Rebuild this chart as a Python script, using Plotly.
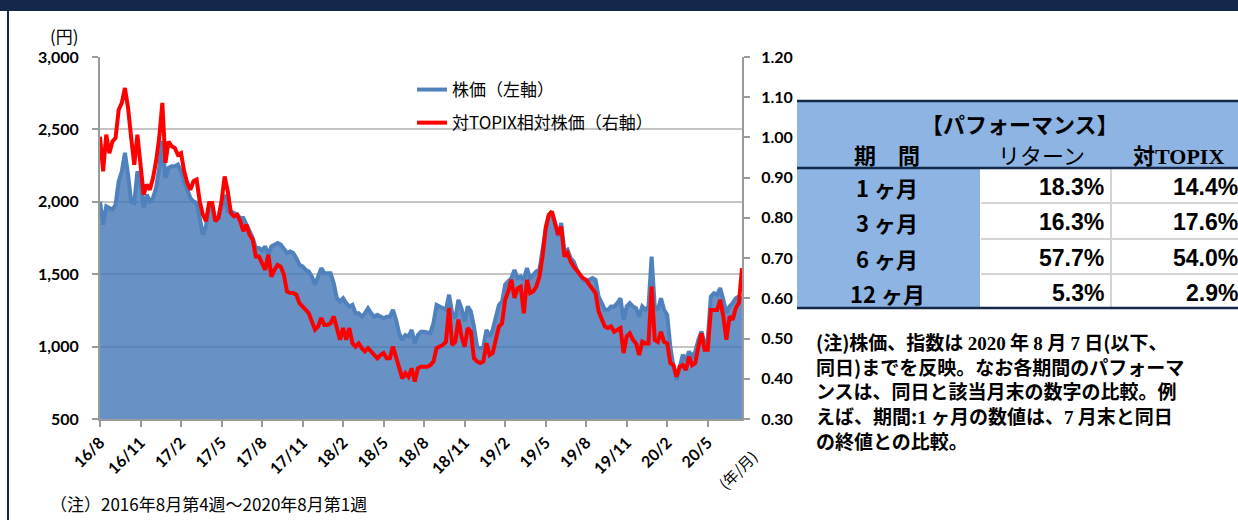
import pandas as pd
import plotly.graph_objects as go

# ---------------- data ----------------
start_date = "2016-08-26"   # 2016年8月第4週
n_weeks = 207               # ... 2020年8月第1週

price = [
    2000, 1842, 1969, 1957, 1946, 1980, 2142, 2211, 2338, 2188,
    2003, 1992, 2211, 2119, 1957, 2049, 2003, 2026, 2096, 2234,
    2420, 2165, 2234, 2246, 2246, 2257, 2211, 2142, 2084, 2026,
    2003, 1992, 1888, 1773, 1830, 1969, 1969, 1865, 1888, 1957,
    2049, 1934, 1934, 1923, 1911, 1888, 1888, 1842, 1796, 1750,
    1681, 1681, 1665, 1692, 1634, 1692, 1704, 1715, 1704, 1669,
    1646, 1657, 1646, 1611, 1565, 1554, 1530, 1519, 1484, 1427,
    1484, 1542, 1507, 1507, 1507, 1438, 1334, 1311, 1334, 1300,
    1277, 1288, 1230, 1230, 1207, 1230, 1265, 1230, 1207, 1219,
    1207, 1196, 1207, 1207, 1253, 1184, 1092, 1046, 1080, 1069,
    1115, 1023, 1080, 1103, 1103, 1100, 1093, 1162, 1288, 1277,
    1265, 1254, 1358, 1231, 1196, 1323, 1265, 1173, 1277, 1242,
    1138, 1000, 989, 1000, 1116, 1069, 1116, 1219, 1288, 1311,
    1427, 1450, 1473, 1530, 1473, 1484, 1461, 1542, 1473, 1496,
    1519, 1530, 1681, 1807, 1899, 1923, 1854, 1761, 1854, 1657,
    1669, 1611, 1588, 1530, 1496, 1461, 1450, 1461, 1473, 1461,
    1346, 1300, 1254, 1254, 1277, 1277, 1300, 1334, 1185, 1277,
    1300, 1277, 1265, 1207, 1277, 1254, 1277, 1622, 1277, 1254,
    1334, 1254, 1219, 1000, 862, 770, 862, 943, 908, 966,
    931, 966, 1046, 1104, 1023, 1046, 1346, 1369, 1357, 1404,
    1323, 1231, 1277, 1300, 1334, 1346, 1323,
]

relative = [
    1.002, 0.916, 1.007, 0.961, 0.990, 0.999, 1.069, 1.086, 1.123, 1.074,
    0.999, 0.932, 1.007, 0.924, 0.858, 0.883, 0.870, 0.899, 0.941, 0.999,
    1.086, 0.937, 0.990, 0.978, 0.974, 0.957, 0.961, 0.916, 0.887, 0.870,
    0.891, 0.895, 0.841, 0.808, 0.792, 0.837, 0.837, 0.792, 0.800, 0.841,
    0.903, 0.866, 0.812, 0.804, 0.808, 0.792, 0.767, 0.783, 0.758, 0.746,
    0.704, 0.704, 0.688, 0.671, 0.708, 0.654, 0.671, 0.683, 0.679, 0.659,
    0.617, 0.613, 0.613, 0.609, 0.588, 0.580, 0.571, 0.563, 0.542, 0.522,
    0.530, 0.551, 0.534, 0.534, 0.538, 0.555, 0.526, 0.497, 0.526, 0.497,
    0.526, 0.488, 0.480, 0.488, 0.476, 0.468, 0.476, 0.468, 0.459, 0.451,
    0.459, 0.464, 0.451, 0.451, 0.480, 0.451, 0.430, 0.401, 0.414, 0.405,
    0.426, 0.393, 0.426, 0.430, 0.430, 0.430, 0.434, 0.443, 0.476, 0.480,
    0.484, 0.492, 0.576, 0.484, 0.492, 0.547, 0.505, 0.480, 0.526, 0.517,
    0.451, 0.443, 0.439, 0.443, 0.488, 0.459, 0.464, 0.497, 0.530, 0.538,
    0.596, 0.617, 0.646, 0.601, 0.625, 0.629, 0.563, 0.646, 0.613, 0.617,
    0.629, 0.654, 0.704, 0.775, 0.808, 0.816, 0.787, 0.758, 0.779, 0.704,
    0.713, 0.692, 0.679, 0.667, 0.659, 0.650, 0.646, 0.634, 0.625, 0.613,
    0.567, 0.547, 0.530, 0.526, 0.530, 0.517, 0.522, 0.526, 0.464, 0.505,
    0.513, 0.497, 0.488, 0.459, 0.492, 0.488, 0.488, 0.629, 0.497, 0.492,
    0.517, 0.492, 0.488, 0.439, 0.434, 0.405, 0.430, 0.434, 0.422, 0.455,
    0.434, 0.439, 0.480, 0.513, 0.472, 0.472, 0.571, 0.571, 0.571, 0.596,
    0.555, 0.497, 0.555, 0.547, 0.576, 0.588, 0.675,
]

x_tick_labels = ["16/8", "16/11", "17/2", "17/5", "17/8", "17/11", "18/2", "18/5",
                 "18/8", "18/11", "19/2", "19/5", "19/8", "19/11", "20/2", "20/5"]
tick_every = 13

left_ticks = [500, 1000, 1500, 2000, 2500, 3000]
right_ticks = [0.30, 0.40, 0.50, 0.60, 0.70, 0.80, 0.90, 1.00, 1.10, 1.20]

perf_periods = ["1 ヶ月", "3 ヶ月", "6 ヶ月", "12 ヶ月"]
perf_return = ["18.3%", "16.3%", "57.7%", "5.3%"]
perf_topix = ["14.4%", "17.6%", "54.0%", "2.9%"]

SERIF = "<span style=\"font-family:'Liberation Serif'\">{}</span>"
note_lines = [
    "(注)株価、指数は " + SERIF.format("2020") + " 年 " + SERIF.format("8") + " 月 "
    + SERIF.format("7") + " 日(以下、",
    "同日)までを反映。なお各期間のパフォーマ",
    "ンスは、同日と該当月末の数字の比較。例",
    "えば、期間:" + SERIF.format("1") + " ヶ月の数値は、" + SERIF.format("7") + " 月末と同日",
    "の終値との比較。",
]
bottom_note = "（注）2016年8月第4週～2020年8月第1週"

dates = pd.date_range(start_date, periods=n_weeks, freq="7D")

# ---------------- geometry helpers ----------------
W, H = 1238, 520
L, R, T, B = 100, 742, 57, 419


def px(x):
    return (x - L) / (R - L)


def py(y):
    return (B - y) / (B - T)


JP = "Noto Sans CJK JP"
NAVY = "#14284a"
LIGHT_BLUE = "#8db4e2"

fig = go.Figure()
fig.add_trace(go.Scatter(
    x=dates, y=price, mode="lines", fill="tozeroy",
    fillcolor="rgba(66,118,183,0.80)", line=dict(width=0, color="rgba(0,0,0,0)"),
    showlegend=False, hoverinfo="skip"))
fig.add_trace(go.Scatter(
    x=dates, y=price, mode="lines", name="株価（左軸）", legendgroup="a",
    line=dict(color="#4f81bd", width=4)))
fig.add_trace(go.Scatter(
    x=dates, y=relative, mode="lines", name="対TOPIX相対株価（右軸）", legendgroup="b",
    line=dict(color="#ff0000", width=4), yaxis="y2"))

tickfont = dict(family="Lato", size=16, color="black", weight="bold")

fig.update_layout(
    width=W, height=H, autosize=False,
    margin=dict(l=L, r=W - R, t=T, b=H - B, pad=0),
    paper_bgcolor="white", plot_bgcolor="white",
    font=dict(family=JP, color="black"),
    xaxis=dict(
        type="date", range=[dates[0], dates[-1]],
        tickvals=list(dates[::tick_every]), ticktext=x_tick_labels,
        tickangle=-45, tickfont=dict(family="Lato", size=16, color="black", weight="bold"),
        showgrid=False, showline=True, linecolor="#9a9a9a", linewidth=2,
        ticks="outside", ticklen=6, tickwidth=2, tickcolor="#9a9a9a", zeroline=False,
    ),
    yaxis=dict(
        range=[500, 3000], tickvals=left_ticks, tickformat=",",
        tickfont=tickfont, showgrid=True, gridcolor="#c4c4c4", gridwidth=2,
        showline=True, linecolor="#9a9a9a", linewidth=2,
        ticks="outside", ticklen=6, tickwidth=2, tickcolor="#9a9a9a",
        ticklabelstandoff=10, zeroline=False,
    ),
    yaxis2=dict(
        range=[0.3, 1.2], tickvals=right_ticks, tickformat=".2f",
        overlaying="y", side="right", tickfont=tickfont, showgrid=False,
        showline=True, linecolor="#9a9a9a", linewidth=2,
        ticks="outside", ticklen=6, tickwidth=2, tickcolor="#9a9a9a",
        ticklabelstandoff=8, zeroline=False,
    ),
    legend=dict(
        x=px(412), y=py(72), xanchor="left", yanchor="top",
        bgcolor="rgba(0,0,0,0)", font=dict(family=JP, size=17, color="black"),
        traceorder="grouped", tracegroupgap=8,
    ),
)

shapes = []
# top dark bar and left frame line
shapes.append(dict(type="rect", xref="paper", yref="paper", x0=px(0), x1=px(W), y0=py(0), y1=py(11),
                   fillcolor=NAVY, line=dict(width=0), layer="above"))
shapes.append(dict(type="line", xref="paper", yref="paper", x0=px(8), x1=px(8), y0=py(11), y1=py(H),
                   line=dict(color=NAVY, width=2)))
# table backgrounds
shapes.append(dict(type="rect", xref="paper", yref="paper", x0=px(797), x1=px(W + 2), y0=py(101), y1=py(168),
                   fillcolor=LIGHT_BLUE, line=dict(width=0)))
shapes.append(dict(type="rect", xref="paper", yref="paper", x0=px(797), x1=px(980), y0=py(168), y1=py(308),
                   fillcolor=LIGHT_BLUE, line=dict(width=0)))
# gray cell separators
for yy in [203, 239, 274]:
    shapes.append(dict(type="line", xref="paper", yref="paper", x0=px(981), x1=px(W + 2), y0=py(yy), y1=py(yy),
                       line=dict(color="#d4d4d4", width=2)))
shapes.append(dict(type="line", xref="paper", yref="paper", x0=px(1111), x1=px(1111), y0=py(168), y1=py(308),
                   line=dict(color="#d4d4d4", width=2)))
# navy table rules
for yy in [101, 168, 308]:
    shapes.append(dict(type="line", xref="paper", yref="paper", x0=px(797), x1=px(W + 2), y0=py(yy), y1=py(yy),
                       line=dict(color=NAVY, width=2.5)))
fig.update_layout(shapes=shapes)

ann = []


def add_text(text, x, y, size, xanchor="center", yanchor="middle", family=JP, weight="normal",
             angle=0, align="center"):
    ann.append(dict(text=text, x=px(x), y=py(y), xref="paper", yref="paper", showarrow=False,
                    xanchor=xanchor, yanchor=yanchor, textangle=angle, align=align,
                    font=dict(family=family, size=size, color="black", weight=weight)))


add_text("(円)", 64, 36, 17)
add_text("(年/月)", 738, 470, 15, angle=-45)
add_text(bottom_note, 48, 503, 17, xanchor="left")

# table header
add_text("【パフォーマンス】", 1020, 123, 22, weight="bold")
add_text("期　間", 887, 154, 22, weight="bold")
add_text("リターン", 1041, 154, 22)
add_text("対" + SERIF.format("TOPIX"), 1178, 154, 22, weight="bold")

row_centers = [187, 222, 258, 293]
for yc, per, r1, r2 in zip(row_centers, perf_periods, perf_return, perf_topix):
    add_text(per, 887, yc, 22, weight="bold")
    add_text(r1, 1106, yc, 23, xanchor="right", family="Liberation Sans", weight="bold")
    add_text(r2, 1240, yc, 23, xanchor="right", family="Liberation Sans", weight="bold")

add_text("<br>".join(note_lines), 814, 326, 19, xanchor="left", yanchor="top", weight="bold", align="left")

fig.update_layout(annotations=ann)

fig.write_html("out.html")
